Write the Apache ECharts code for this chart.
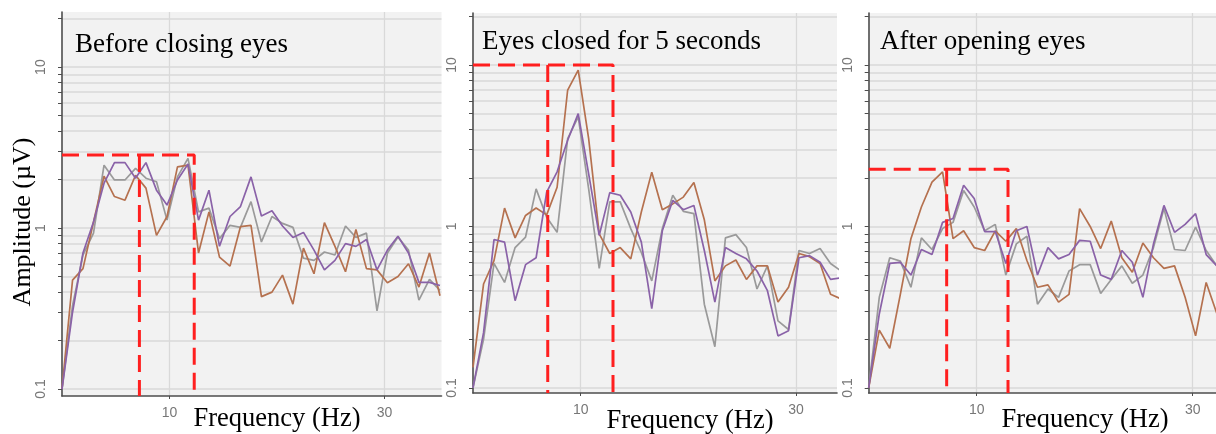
<!DOCTYPE html>
<html><head><meta charset="utf-8">
<script src="https://cdn.jsdelivr.net/npm/echarts@6/dist/echarts.min.js"></script>
<style>html,body{margin:0;padding:0;background:#fff}#c{width:1216px;height:434px}</style>
</head><body><div id="c"></div>
<script>
// frequency bins (Hz)
const freqHz = [0, 0.98, 1.95, 2.93, 3.91, 4.88, 5.86, 6.84, 7.81, 8.79, 9.77, 10.74, 11.72, 12.70, 13.67, 14.65, 15.63, 16.60, 17.58, 18.55, 19.53, 20.51, 21.48, 22.46, 23.44, 24.41, 25.39, 26.37, 27.34, 28.32, 29.30, 30.27, 31.25, 32.23, 33.20, 34.18, 35.16];
const panelTitles = ['Before closing eyes', 'Eyes closed for 5 seconds', 'After opening eyes'];
const xAxisTitle = 'Frequency (Hz)';
const yAxisTitle = 'Amplitude (µV)';
const xTickLabels = [10, 30];
const yTickLabels = [0.1, 1, 10];
const yTickValues = [0.1, 0.2, 0.3, 0.4, 0.5, 0.6, 0.7, 0.8, 0.9, 1, 2, 3, 4, 5, 6, 7, 8, 9, 10, 20];

// Panel 1: before closing eyes (amplitude, µV)
const greyBefore   = [0.1, 0.33, 0.68, 0.93, 2.46, 1.99, 1.99, 2.35, 2.04, 1.94, 1.12, 2.08, 2.71, 1.26, 1.33, 0.86, 1.04, 1.01, 1.46, 0.82, 1.18, 1.07, 1.01, 0.65, 0.63, 0.71, 0.68, 1.03, 0.875, 0.93, 0.306, 0.70, 0.88, 0.73, 0.357, 0.48, 0.41];
const brownBefore  = [0.1, 0.475, 0.56, 1.09, 2.10, 1.57, 1.49, 2.13, 1.77, 0.90, 1.18, 2.40, 2.46, 0.70, 1.26, 0.66, 0.58, 1.02, 1.04, 0.375, 0.40, 0.51, 0.337, 0.75, 0.52, 1.08, 0.77, 0.535, 0.98, 0.56, 0.55, 0.457, 0.50, 0.60, 0.43, 0.70, 0.38];
const purpleBefore = [0.1, 0.3, 0.7, 1.09, 1.9, 2.55, 2.55, 2.04, 2.55, 1.72, 1.39, 1.99, 2.50, 1.12, 1.72, 0.77, 1.18, 1.36, 2.08, 1.19, 1.28, 1.03, 0.875, 0.94, 0.73, 0.55, 0.63, 0.80, 0.77, 0.85, 0.55, 0.73, 0.89, 0.70, 0.46, 0.46, 0.44];
// Panel 2: eyes closed for 5 seconds
const greyClosed   = [0.1, 0.2, 0.59, 0.45, 0.74, 0.86, 1.71, 1.14, 0.92, 3.5, 4.78, 1.71, 0.55, 1.42, 1.42, 0.97, 0.69, 0.46, 0.97, 1.56, 1.24, 1.20, 0.33, 0.18, 0.85, 0.89, 0.74, 0.41, 0.57, 0.26, 0.23, 0.71, 0.68, 0.73, 0.59, 0.53];
const brownClosed  = [0.134, 0.44, 0.615, 1.30, 0.85, 1.17, 1.30, 1.18, 1.75, 7.0, 9.3, 3.5, 0.90, 0.68, 0.74, 0.63, 1.23, 2.17, 1.27, 1.38, 1.52, 1.87, 1.1, 0.46, 0.57, 0.62, 0.47, 0.57, 0.57, 0.34, 0.42, 0.68, 0.65, 0.59, 0.38, 0.356];
const purpleClosed = [0.1, 0.22, 0.83, 0.80, 0.347, 0.58, 0.64, 1.63, 2.18, 3.42, 5.0, 2.12, 0.88, 1.62, 1.56, 1.23, 0.80, 0.31, 0.94, 1.45, 1.27, 1.35, 0.71, 0.34, 0.74, 0.68, 0.63, 0.53, 0.40, 0.21, 0.226, 0.64, 0.66, 0.60, 0.47, 0.48];
// Panel 3: after opening eyes
const greyAfter    = [0.1, 0.364, 0.64, 0.61, 0.42, 0.85, 0.72, 0.97, 1.06, 1.67, 1.32, 0.94, 1.03, 0.50, 0.78, 0.87, 0.33, 0.41, 0.364, 0.53, 0.58, 0.58, 0.385, 0.47, 0.57, 0.445, 0.50, 0.74, 1.29, 0.72, 0.71, 0.99, 0.71, 0.57];
const brownAfter   = [0.1, 0.228, 0.176, 0.38, 0.84, 1.32, 1.88, 2.18, 0.84, 0.94, 0.74, 0.71, 0.94, 0.81, 0.97, 0.615, 0.42, 0.435, 0.34, 0.38, 1.29, 1.0, 0.73, 1.08, 0.64, 0.52, 0.79, 0.64, 0.55, 0.57, 0.364, 0.21, 0.45, 0.29];
const purpleAfter  = [0.1, 0.287, 0.59, 0.60, 0.50, 0.72, 0.67, 1.06, 1.12, 1.80, 1.49, 0.93, 0.93, 0.59, 0.94, 1.0, 0.50, 0.74, 0.63, 0.67, 0.82, 0.81, 0.50, 0.47, 0.71, 0.60, 0.364, 0.78, 1.35, 0.92, 1.03, 1.20, 0.67, 0.57];

// red dashed alpha-band annotations
const bandLowHz  = [7.2, 6.94, 7.22];
const bandHighHz = [12.3, 13.0, 12.9];
const bandLevel  = [2.84, 10, 2.26];

const panelSeries = [
  [greyBefore, brownBefore, purpleBefore],
  [greyClosed, brownClosed, purpleClosed],
  [greyAfter, brownAfter, purpleAfter]
];
const lineColors = ['#9a9a9a', '#b5714f', '#8a62a8'];

// layout (pixels)
const grids = [
  {left: 62, top: 12, width: 379.5, height: 384},
  {left: 473, top: 13, width: 364, height: 380},
  {left: 868.7, top: 13, width: 347.3, height: 380}
];
const xMax = [35.3, 33.8, 32.16];
const yMin = [0.0905, 0.093, 0.093];
const yMax = [22, 21, 21];

const axisCol = '#4d4d4d', gridCol = '#d9d9d9', labCol = '#777';
const sans = '"Liberation Sans", Arial, sans-serif';
const serif = '"Liberation Serif", "Times New Roman", serif';

const option = {
  backgroundColor: '#ffffff',
  animation: false,
  grid: grids.map(g => Object.assign({show: true, backgroundColor: '#f2f2f2', borderWidth: 0}, g)),
  xAxis: grids.map((g, k) => ({
    type: 'value', gridIndex: k, min: 0, max: xMax[k],
    axisLine: {show: true, onZero: false, lineStyle: {color: axisCol, width: 1.6}},
    axisTick: {show: true, customValues: xTickLabels, length: 3, lineStyle: {color: axisCol, width: 1}},
    axisLabel: {customValues: xTickLabels, margin: 10, color: labCol, fontSize: 14, fontFamily: sans},
    splitLine: {show: true, lineStyle: {color: gridCol, width: 1.3}}
  })),
  yAxis: grids.map((g, k) => ({
    type: 'log', logBase: 10, gridIndex: k, min: yMin[k], max: yMax[k], offset: 5,
    axisLine: {show: true, lineStyle: {color: axisCol, width: 1.6}},
    axisTick: {show: true, customValues: yTickValues, length: 4, lineStyle: {color: axisCol, width: 1}},
    axisLabel: {customValues: yTickLabels, rotate: 90, margin: 9, color: labCol, fontSize: 14, fontFamily: sans,
      formatter: v => String(+Number(v).toPrecision(3))},
    splitLine: {show: true, lineStyle: {color: gridCol, width: 1.6}}
  })),
  series: [],
  graphic: []
};

panelSeries.forEach((arrs, k) => {
  arrs.forEach((vals, j) => {
    option.series.push({
      type: 'line', xAxisIndex: k, yAxisIndex: k, symbol: 'none', silent: true,
      data: vals.map((v, i) => [freqHz[i], v]),
      lineStyle: {color: lineColors[j], width: 1.7}
    });
  });
  const dash = {color: '#ff1f1f', width: 3, type: [17, 8]};
  option.series.push({
    type: 'line', xAxisIndex: k, yAxisIndex: k, symbol: 'none', silent: true,
    data: [[0, bandLevel[k]], [bandHighHz[k], bandLevel[k]], [bandHighHz[k], yMin[k]]],
    lineStyle: dash, z: 5
  });
  option.series.push({
    type: 'line', xAxisIndex: k, yAxisIndex: k, symbol: 'none', silent: true,
    data: [[bandLowHz[k], bandLevel[k]], [bandLowHz[k], yMin[k]]],
    lineStyle: dash, z: 5
  });
});

const titlePos = [[75, 45], [482, 42], [880, 42]];
const xTitlePos = [[277, 419], [690, 421], [1085, 420]];
panelTitles.forEach((t, k) => {
  option.graphic.push({type: 'text', x: titlePos[k][0], y: titlePos[k][1], z: 100,
    style: {text: t, font: '27px ' + serif, fill: '#000', align: 'left', verticalAlign: 'middle', textAlign: 'left', textVerticalAlign: 'middle'}});
  option.graphic.push({type: 'text', x: xTitlePos[k][0], y: xTitlePos[k][1], z: 100,
    style: {text: xAxisTitle, font: '26.5px ' + serif, fill: '#000', align: 'center', verticalAlign: 'middle', textAlign: 'center', textVerticalAlign: 'middle'}});
});
option.graphic.push({type: 'text', x: 23, y: 222, rotation: Math.PI / 2, z: 100,
  style: {text: yAxisTitle, font: '26px ' + serif, fill: '#000', align: 'center', verticalAlign: 'middle', textAlign: 'center', textVerticalAlign: 'middle'}});

const chart = echarts.init(document.getElementById('c'), null, {renderer: 'canvas'});
chart.setOption(option);
</script></body></html>
